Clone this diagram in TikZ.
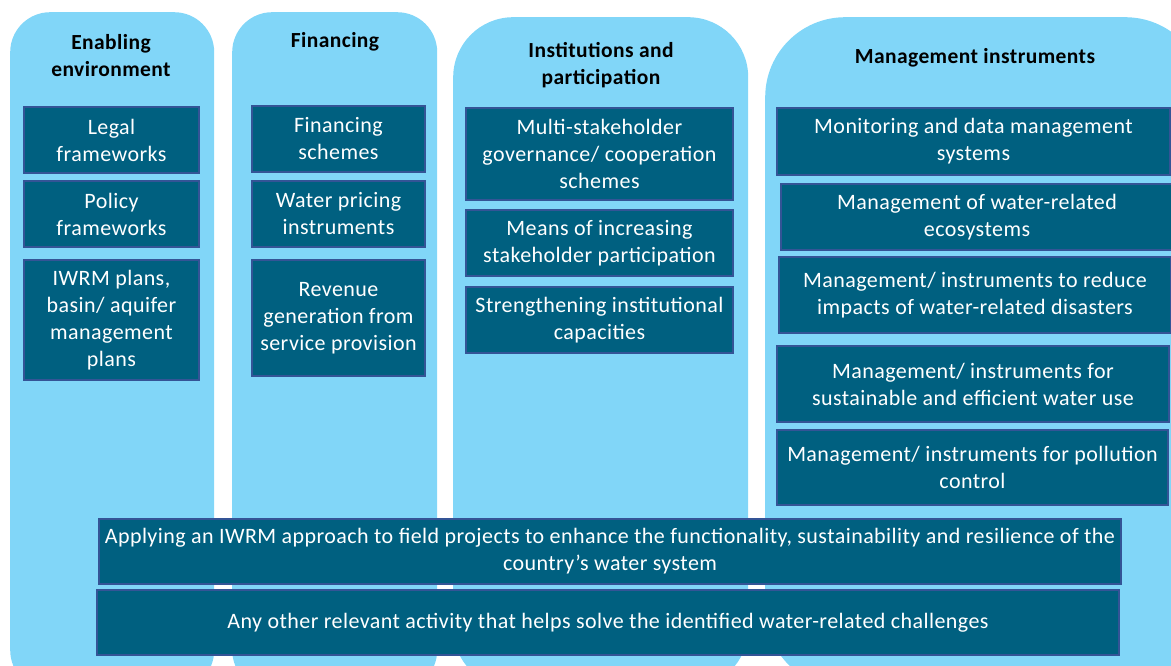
\documentclass[tikz,border=0pt]{standalone}
\usepackage{fontspec}
\setmainfont[LetterSpace=2]{Carlito}
\usepackage{tikz}
\usetikzlibrary{positioning}

\definecolor{paleblue}{RGB}{129,214,248}
\definecolor{deepteal}{RGB}{0,96,128}
\definecolor{edgeblue}{RGB}{52,84,150}

\begin{document}
\begin{tikzpicture}[x=1pt,y=-1pt,
    column/.style = {fill=paleblue, draw=none, anchor=north west, inner sep=0pt},
    heading/.style = {font=\fontsize{21.5}{27}\selectfont\bfseries, align=center, text=black},
every node/.style = {inner sep=2pt},
    item/.style = {fill=deepteal, draw=edgeblue, line width=1.2pt, text=white,
                   font=\fontsize{22}{27}\selectfont, align=center}]
\useasboundingbox (0,0) rectangle (1171,666);
\clip (0,0) rectangle (1171,666);

% the four pillars
\node[column, rounded corners=40, minimum width=204, minimum height=678] (enab) at (10,12) {};
\node[column, rounded corners=40, minimum width=205, minimum height=678] (fin)  at (232,12) {};
\node[column, rounded corners=60, minimum width=295, minimum height=671] (inst) at (453,17) {};
\node[column, rounded corners=80, minimum width=440, minimum height=671] (mgmt) at (765,17) {};

\node[heading] (henab) at (111,56) {Enabling\\environment};
\node[heading] (hfin)  at (335,42) {Financing};
\node[heading] (hinst) at (601,65) {Institutions and\\participation};
\node[heading] (hmgmt) at (975,58) {Management instruments};

% enabling environment
\node[item, minimum width=175, minimum height=66] (legal)  at (111.5,140) {Legal\\frameworks};
\node[item, minimum width=175, minimum height=66] (policy) at (111.5,214) {Policy\\frameworks};
\node[item, minimum width=175, minimum height=120] (plans) at (111.5,320) {IWRM plans,\\basin/ aquifer\\management\\plans};

% financing
\node[item, minimum width=173, minimum height=66] (schemes) at (338.5,139) {Financing\\schemes};
\node[item, minimum width=173, minimum height=66] (pricing) at (338.5,214) {Water pricing\\instruments};
\node[item, minimum width=173, minimum height=116] (revenue) at (338.5,318) {Revenue\\generation from\\service provision};

% institutions and participation
\node[item, minimum width=267, minimum height=92] (multi)  at (599.5,154) {Multi-stakeholder\\governance/ cooperation\\schemes};
\node[item, minimum width=267, minimum height=66] (means)  at (599.5,243) {Means of increasing\\stakeholder participation};
\node[item, minimum width=267, minimum height=66] (capac)  at (599.5,320) {Strengthening institutional\\capacities};

% management instruments
\node[item, minimum width=393, minimum height=67] (monit)  at (973.5,141.5) {Monitoring and data management\\systems};
\node[item, minimum width=392, minimum height=66] (ecosys) at (977,217) {Management of water-related\\ecosystems};
\node[item, minimum width=392, minimum height=76] (disast) at (975,295) {Management/ instruments to reduce\\impacts of water-related disasters};
\node[item, minimum width=392, minimum height=76] (effic)  at (973,384) {Management/ instruments for\\sustainable and efficient water use};
\node[item, minimum width=391, minimum height=75] (pollut) at (972.5,467.5) {Management/ instruments for pollution\\control};

% cross-cutting rows
\node[item, minimum width=1022, minimum height=65] (field) at (610,551.5)
  {Applying an IWRM approach to field projects to enhance the functionality, sustainability and resilience of the\\country’s water system};
\node[item, minimum width=1022, minimum height=65] (other) at (608,622.5)
  {Any other relevant activity that helps solve the identified water-related challenges};

\end{tikzpicture}
\end{document}
